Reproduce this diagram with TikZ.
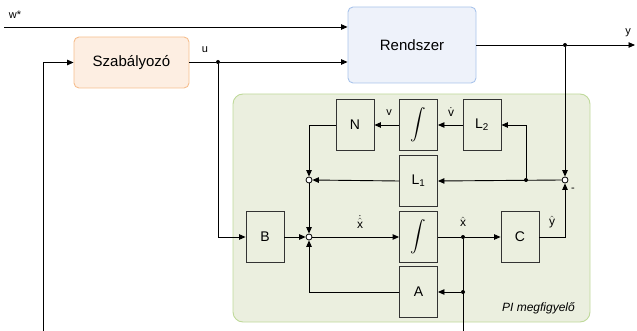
\documentclass[tikz,border=0pt]{standalone}
\usepackage{fontspec}
\setmainfont{Liberation Sans}
\usetikzlibrary{arrows.meta}
\definecolor{szabfill}{HTML}{FDEEE2}
\definecolor{szabdraw}{HTML}{F6BE8E}
\definecolor{rendfill}{HTML}{EEF2FA}
\definecolor{renddraw}{HTML}{A9C4EB}
\definecolor{grfill}{HTML}{EBEFDF}
\definecolor{grdraw}{HTML}{BFD99A}
\newcommand{\bigint}{\scalebox{1.55}{$\displaystyle\int$}}
\begin{document}
\begin{tikzpicture}[x=1pt,y=-1pt,
  arr/.style={-{Triangle[length=6.5pt,width=5.5pt]}},
  ln/.style={line width=0.9pt, draw=black},
  blk/.style={draw=black!80, line width=0.9pt, minimum width=38pt, minimum height=51pt, inner sep=0pt, font=\fontsize{14}{16}\selectfont},
  bigbox/.style={rounded corners=5pt, line width=0.9pt, inner sep=0pt, font=\fontsize{15}{17}\selectfont},
  sumc/.style={circle, draw=black, fill=white, inner sep=0pt, minimum size=6pt, line width=0.8pt},
  jdot/.style={circle, fill=black, inner sep=0pt, minimum size=4pt},
  lbl/.style={font=\fontsize{11}{12}\selectfont, inner sep=1pt},
  mlbl/.style={font=\fontsize{12}{13}\selectfont, inner sep=0pt}]
\useasboundingbox (0,0) rectangle (637,331);
% observer background
\draw[fill=grfill, draw=grdraw, rounded corners=10pt, line width=0.9pt] (233,94) rectangle (590,322);
\node[lbl, font=\fontsize{12}{13}\selectfont\itshape, anchor=east] (pilbl) at (576,308) {PI megfigyelő};
% main boxes
\node[bigbox, draw=szabdraw, fill=szabfill, minimum width=115pt, minimum height=51pt] (szab) at (131.5,62.5) {Szabályozó};
\node[bigbox, draw=renddraw, fill=rendfill, minimum width=128pt, minimum height=76pt] (rend) at (412,45) {Rendszer};
% inner blocks
\node[blk] (N) at (355,125) {N};
\node[blk] (I1) at (418.5,125) {\bigint};
\node[blk] (L2) at (482,125) {L\textsubscript{2}};
\node[blk] (L1) at (418.5,181) {L\textsubscript{1}};
\node[blk] (B) at (265,237) {B};
\node[blk] (I2) at (418.5,237) {\bigint};
\node[blk] (C) at (520,237) {C};
\node[blk] (A) at (418.5,292) {A};
% summing points and junctions
\node[sumc] (s1) at (309,180) {};
\node[sumc] (s2) at (309,237) {};
\node[sumc] (s3) at (565,180) {};
\node[jdot] (ju) at (218,62) {};
\node[jdot] (jy) at (565,45) {};
\node[jdot] (jl) at (526,180) {};
\node[jdot] (jx) at (463,237) {};
\node[jdot] (ja) at (463,292) {};
\coordinate (win) at (4,27);
\coordinate (yout) at (635,45);
\coordinate (fb) at (43,331);
\coordinate (xb) at (463,331);
% connectors
\draw[ln, arr] (win) -- (win -| rend.west);
\draw[ln] (szab.east |- ju) -- (ju);
\draw[ln, arr] (ju) -- (ju -| rend.west);
\draw[ln, arr] (fb) |- (szab.west);
\draw[ln, arr] (ju) |- (B.west);
\draw[ln] (rend.east |- jy) -- (jy);
\draw[ln, arr] (jy) -- (yout);
\draw[ln, arr] (jy) -- (s3.north);
\draw[ln, arr] (I1.west) -- (N.east);
\draw[ln, arr] (L2.west) -- (I1.east);
\draw[ln, arr] (N.west) -| (s1.north);
\draw[ln, arr] (s3.west) -- (L1.east);
\draw[ln, arr] (jl) |- (L2.east);
\draw[ln, arr] (L1.west) -- (s1.east);
\draw[ln, arr] (s1.south) -- (s2.north);
\draw[ln, arr] (B.east) -- (s2.west);
\draw[ln, arr] (s2.east) -- (I2.west);
\draw[ln] (I2.east) -- (jx);
\draw[ln, arr] (jx) -- (C.west);
\draw[ln] (jx) -- (xb);
\draw[ln, arr] (ja) -- (A.east);
\draw[ln, arr] (A.west) -| (s2.south);
\draw[ln, arr] (C.east) -| (s3.south);
% labels
\node[lbl] (lw) at (15,15) {w*};
\node[lbl] (lu) at (205,50) {u};
\node[lbl] (ly) at (628,33) {y};
\node[lbl] (lv) at (389,113) {v};
\node[mlbl] (lvd) at (451,112) {$\dot{\mathrm{v}}$};
\node[mlbl] (lxd) at (360,222) {$\dot{\hat{\mathrm{x}}}$};
\node[mlbl] (lxh) at (463,222) {$\hat{\mathrm{x}}$};
\node[mlbl] (lyh) at (552,222) {$\hat{\mathrm{y}}$};
\node[lbl] (lmin) at (573,190) {-};
\end{tikzpicture}
\end{document}
